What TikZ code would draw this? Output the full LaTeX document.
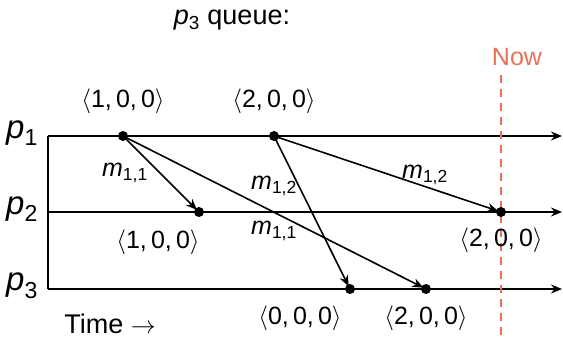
\documentclass[tikz,border=0pt]{standalone}
\usepackage{fontspec}
\setmainfont{Liberation Sans}
\usetikzlibrary{arrows.meta}
\definecolor{nowred}{HTML}{E8705A}
\newcommand{\vc}[1]{$\big\langle$#1$\big\rangle$}
\newcommand{\msg}[1]{\textit{m}\textsubscript{#1}}
\begin{document}
\begin{tikzpicture}[x=1pt,y=-1pt,
  lbl/.style={font=\fontsize{25}{27}\selectfont, inner sep=0pt},
  biglbl/.style={font=\fontsize{27}{29}\selectfont, inner sep=0pt},
  plbl/.style={font=\fontsize{33}{35}\selectfont, inner sep=0pt},
  ev/.style={circle, fill=black, inner sep=0pt, minimum size=10pt},
  tl/.style={line width=1.6pt, -{Stealth[length=11pt,width=9pt]}},
  msgar/.style={line width=1.6pt, -{Stealth[length=11pt,width=9pt]}, shorten >=3pt}]
\useasboundingbox (0,0) rectangle (563,340);
% process lines
\coordinate (s1) at (48,136);
\coordinate (s2) at (48,212);
\coordinate (s3) at (48,289);
\coordinate (e1) at (562,136);
\coordinate (e2) at (562,212);
\coordinate (e3) at (562,289);
\draw[line width=1.6pt] (s1) -- (s3);
\draw[tl] (s1) -- (e1);
\draw[tl] (s2) -- (e2);
\draw[tl] (s3) -- (e3);
% now line
\coordinate (nt) at (501,75);
\coordinate (nb) at (501,340);
\draw[nowred, line width=1.6pt, dash pattern=on 8pt off 6pt] (nt) -- (nb);
\node[lbl, text=nowred] (now) at (517,57) {Now};
% events
\node[ev] (a1) at (123,136) {};
\node[ev] (a2) at (274,136) {};
\node[ev] (b1) at (199,212) {};
\node[ev] (b2) at (501,212) {};
\node[ev] (c1) at (350,289) {};
\node[ev] (c2) at (426,289) {};
% messages
\draw[msgar] (a1.center) -- (b1.center);
\draw[msgar] (a1.center) -- (c2.center);
\draw[msgar] (a2.center) -- (c1.center);
\draw[msgar] (a2.center) -- (b2.center);
% labels
\node[biglbl] (title) at (232,20) {\textit{p}\textsubscript{3} queue:};
\node[plbl] (p1) at (22,133) {\textit{p}\textsubscript{1}};
\node[plbl] (p2) at (22,209) {\textit{p}\textsubscript{2}};
\node[plbl] (p3) at (22,286) {\textit{p}\textsubscript{3}};
\node[lbl] (va1) at (123,101) {\vc{1,\,0,\,0}};
\node[lbl] (va2) at (274,101) {\vc{2,\,0,\,0}};
\node[lbl] (vb1) at (158,242) {\vc{1,\,0,\,0}};
\node[lbl] (vb2) at (501,240) {\vc{2,\,0,\,0}};
\node[lbl] (vc1) at (300,318) {\vc{0,\,0,\,0}};
\node[lbl] (vc2) at (426,318) {\vc{2,\,0,\,0}};
\node[lbl] (m1) at (125,173) {\msg{1,1}};
\node[lbl] (m2) at (274,186) {\msg{1,2}};
\node[lbl] (m3) at (274,231) {\msg{1,1}};
\node[lbl] (m4) at (425,175) {\msg{1,2}};
\node[biglbl] (time) at (110,324) {Time $\rightarrow$};
\end{tikzpicture}
\end{document}
